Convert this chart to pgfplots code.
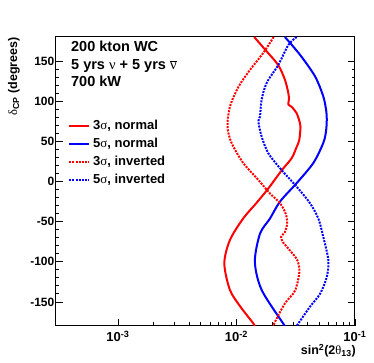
\documentclass[border=0pt]{standalone}
\usepackage{fontspec}
\setmainfont{Liberation Sans}
\newfontfamily\greek{Liberation Serif}
\usepackage{pgfplots}
\pgfplotsset{compat=1.18}

\newcommand{\gr}[1]{{\greek\mdseries #1}}

\begin{document}
\begin{tikzpicture}
\begin{axis}[
    scale only axis,
    width=299pt, height=289pt,
    xmode=log,
    xmin=3e-4, xmax=0.1,
    ymin=-180, ymax=180,
    xtick={1e-3,1e-2,1e-1},
    xticklabels={10\textsuperscript{-3},10\textsuperscript{-2},10\textsuperscript{-1}},
    ytick={-150,-100,-50,0,50,100,150},
    yticklabels={-150,-100,-50,0,50,100,150},
    minor y tick num=4,
    xtick pos=left, ytick pos=both,
    tick align=inside,
    major tick length=7pt, minor tick length=3.5pt,
    every tick/.style={black, line width=0.8pt},
    axis line style={line width=1pt},
    ticklabel style={font=\fontsize{12}{14}\selectfont\bfseries},
    yticklabel style={inner xsep=1.5pt},
    xticklabel style={inner ysep=0pt, yshift=-5pt, font=\fontsize{13}{15}\selectfont\bfseries},
    legend style={draw=none, fill=none, at={(rel axis cs:0.04,0.713)}, anchor=north west,
        font=\fontsize{13}{15}\selectfont\bfseries, row sep=6pt, column sep=3pt,
        inner sep=0pt, nodes={inner sep=0pt, text height=9pt, text depth=3pt}},
    legend cell align=left,
    legend image code/.code={\draw[#1] (0pt,0pt) -- (20pt,0pt);},
]

% 3 sigma, normal hierarchy
\addplot[red, line width=2pt, smooth] coordinates {
    (0.0141,180) (0.0180,162) (0.0225,145) (0.0256,127) (0.0274,110)
    (0.0277,102) (0.0274,96) (0.0292,93) (0.0322,85) (0.0343,73)
    (0.0347,68) (0.0339,52) (0.0322,43) (0.0292,29) (0.0241,14)
    (0.0186,-8.5) (0.0147,-27) (0.0114,-46) (0.0088,-73) (0.0079,-102)
    (0.0088,-135) (0.0108,-156) (0.0139,-177) (0.0141,-180)
};
\addlegendentry{3\gr{σ}, normal}

% 5 sigma, normal hierarchy
\addplot[blue, line width=2pt, smooth] coordinates {
    (0.0256,180) (0.0343,158) (0.0460,131) (0.0540,106) (0.0572,88)
    (0.0578,77) (0.0570,63) (0.0540,48) (0.0445,23) (0.0322,-2)
    (0.0233,-25) (0.0192,-46) (0.0158,-65) (0.0143,-100) (0.0163,-135)
    (0.0248,-177) (0.0256,-180)
};
\addlegendentry{5\gr{σ}, normal}

% 3 sigma, inverted hierarchy
\addplot[red, line width=2pt, dash pattern=on 2pt off 1.2pt, smooth] coordinates {
    (0.0206,180) (0.0168,160) (0.0130,139) (0.0104,118) (0.0088,93)
    (0.0084,68) (0.0091,48) (0.0114,23) (0.0153,2) (0.0192,-15)
    (0.0233,-27) (0.0260,-40) (0.0268,-52) (0.0256,-63) (0.0238,-69)
    (0.0248,-76) (0.0283,-86) (0.0326,-98) (0.0339,-113) (0.0312,-136)
    (0.0256,-152) (0.0208,-177) (0.0206,-180)
};
\addlegendentry{3\gr{σ}, inverted}

% 5 sigma, inverted hierarchy
\addplot[blue, line width=2pt, dash pattern=on 2pt off 1.2pt, smooth] coordinates {
    (0.0322,180) (0.0274,170) (0.0225,145) (0.0180,123) (0.0163,102)
    (0.0158,81) (0.0153,75) (0.0163,56) (0.0186,35) (0.0241,14)
    (0.0322,-6.5) (0.0417,-27) (0.0490,-46) (0.0540,-69) (0.0596,-98)
    (0.0578,-119) (0.0507,-140) (0.0417,-156) (0.0332,-177) (0.0322,-180)
};
\addlegendentry{5\gr{σ}, inverted}

\node[anchor=base west, font=\fontsize{14.5}{17}\selectfont\bfseries]
    at (rel axis cs:0.039,0.949) {200 kton WC};
\node[anchor=base west, font=\fontsize{14.5}{17}\selectfont\bfseries]
    at (rel axis cs:0.039,0.888) {5 yrs \gr{ν} + 5 yrs $\overline{\hbox{\gr{ν}}}$};
\node[anchor=base west, font=\fontsize{14.5}{17}\selectfont\bfseries]
    at (rel axis cs:0.039,0.830) {700 kW};
\end{axis}

\node[rotate=90, anchor=east, inner sep=0pt, font=\fontsize{12.5}{14}\selectfont\bfseries]
    at ([xshift=-42pt]current axis.north west) {\gr{δ}\textsubscript{CP} (degrees)};
\node[anchor=base east, inner sep=0pt, font=\fontsize{12.5}{14}\selectfont\bfseries]
    at ([xshift=1pt,yshift=-29pt]current axis.south east) {sin\textsuperscript{2}(2\gr{θ}\textsubscript{13})};

\pgfresetboundingbox
\path[use as bounding box] ([xshift=-56pt,yshift=-37pt]current axis.south west)
    rectangle ([xshift=19pt,yshift=37pt]current axis.north east);
\end{tikzpicture}
\end{document}
